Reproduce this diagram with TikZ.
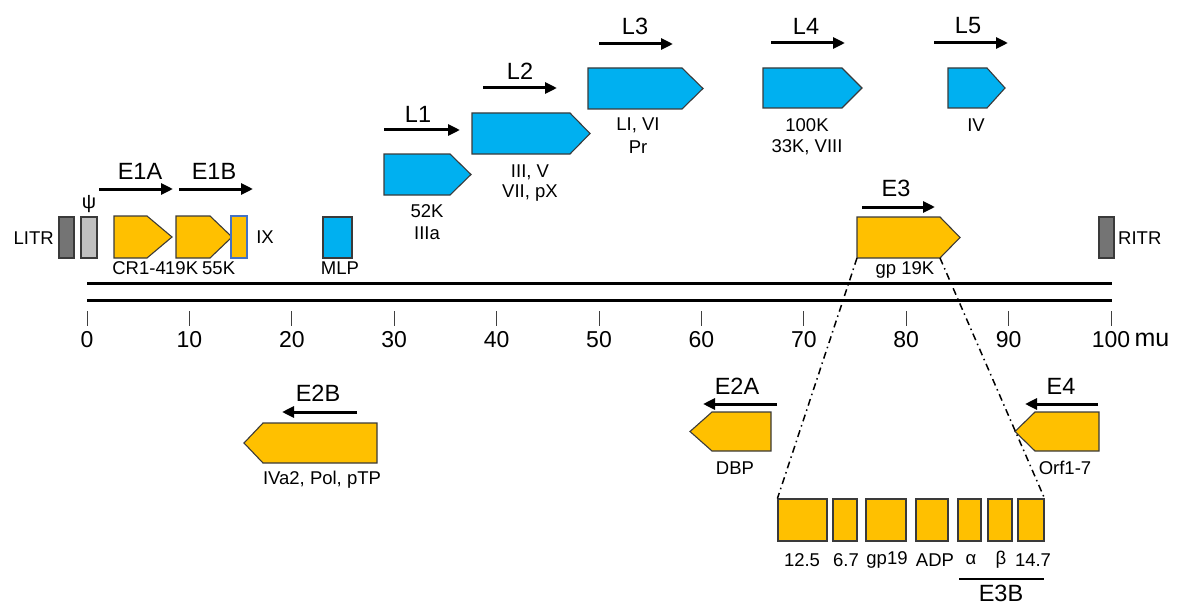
\documentclass[tikz,border=0pt]{standalone}
\usepackage{fontspec}
\setmainfont{Liberation Sans}
\usetikzlibrary{arrows.meta}
\definecolor{gorange}{HTML}{FFC000}
\definecolor{gblue}{HTML}{00B0F0}
\definecolor{gdark}{HTML}{747474}
\definecolor{glight}{HTML}{C0C0C0}
\definecolor{gedge}{HTML}{3A3A3A}
\definecolor{ixedge}{HTML}{4472C4}
\begin{document}
\begin{tikzpicture}[x=1pt,y=-1pt,
  big/.style={font=\fontsize{23.5}{27}\selectfont, inner sep=0pt},
  small/.style={font=\fontsize{18.5}{22}\selectfont, inner sep=0pt},
  num/.style={font=\fontsize{23}{27}\selectfont, inner sep=0pt},
  og/.style={fill=gorange, draw=gedge, line width=1.1pt, line join=miter},
  bg/.style={fill=gblue, draw=gedge, line width=1.1pt, line join=miter},
  tarrow/.style={line width=3pt, -{Triangle[length=12pt,width=11pt]}},
  ebox/.style={og, minimum height=42pt, inner sep=0pt},
  rbox/.style={draw=gedge, line width=1.1pt, minimum width=15pt, minimum height=41pt, inner sep=0pt},
  dd/.style={line width=1.5pt, dash pattern=on 7pt off 4pt on 1.5pt off 4pt},
  tick/.style={line width=1pt, draw=black!75}]
\useasboundingbox (0,0) rectangle (1196,607);

% genome lines
\draw[line width=3pt] (87,283) -- (1112,283);
\draw[line width=3pt] (87,300) -- (1112,300);
\foreach \k/\lab in {0/0,1/10,2/20,3/30,4/40,5/50,6/60,7/70,8/80,9/90,10/100}{
  \draw[tick] ({87+102.4*\k},311) -- ({87+102.4*\k},326);
  \node[num] (n\k) at ({87+102.4*\k},340) {\lab};
}
\node[num, anchor=west, font=\fontsize{25}{29}\selectfont] (mu) at ([xshift=4pt]n10.east) {mu};

% left end elements
\node[rbox, fill=gdark] (litr) at (66.5,237.5) {};
\node[small, anchor=east] (litrl) at (54,238) {LITR};
\node[rbox, fill=glight, minimum width=16pt] (psi) at (89,237.5) {};
\node[small, font=\fontsize{20}{24}\selectfont] (psil) at (89,204) {ψ};

% E1
\node[big] (e1a) at (140,171) {E1A};
\node[big] (e1b) at (214,171) {E1B};
\draw[tarrow] (99,189) -- (173,189);
\draw[tarrow] (179,189) -- (253,189);
\draw[og] (114,216) -- (147,216) -- (172,237) -- (147,258) -- (114,258) -- cycle;
\draw[og] (176,216) -- (210,216) -- (232,237) -- (210,258) -- (176,258) -- cycle;
\node[fill=gorange, draw=ixedge, line width=1.1pt, minimum width=16pt, minimum height=42pt, inner sep=0pt] (ix) at (239,237) {};
\node[small] (ixl) at (265,237) {IX};
\node[small, anchor=east] (cr) at (166,268) {CR1-4};
\node[small, anchor=west] (k19) at (165,268) {19K};
\node[small, anchor=west] (k55) at (202,268) {55K};

% MLP
\node[bg, minimum width=29pt, minimum height=41pt, inner sep=0pt] (mlp) at (337.5,237.5) {};
\node[small] (mlpl) at (340,268) {MLP};

% late genes
\node[big] (l1) at (418,114) {L1};
\node[big] (l2) at (520,71) {L2};
\node[big] (l3) at (635,26) {L3};
\node[big] (l4) at (806,26) {L4};
\node[big] (l5) at (968,26) {L5};
\draw[tarrow] (384,130) -- (460,130);
\draw[tarrow] (483,88) -- (557,88);
\draw[tarrow] (599,44) -- (673,44);
\draw[tarrow] (771,43) -- (845,43);
\draw[tarrow] (934,43) -- (1008,43);
\draw[bg] (384,154) -- (450,154) -- (471,174.5) -- (450,195) -- (384,195) -- cycle;
\draw[bg] (472,113) -- (570,113) -- (590,133.5) -- (570,154) -- (472,154) -- cycle;
\draw[bg] (588,68) -- (682,68) -- (703,88.5) -- (682,109) -- (588,109) -- cycle;
\draw[bg] (763,68) -- (842,68) -- (862,88) -- (842,108) -- (763,108) -- cycle;
\draw[bg] (948,68) -- (987,68) -- (1005,88) -- (987,108) -- (948,108) -- cycle;
\node[small] (k52) at (427,211) {52K};
\node[small] (iiia) at (427,233) {IIIa};
\node[small] (iiiv) at (530,172) {III, V};
\node[small] (viipx) at (530,193) {VII, pX};
\node[small] (livi) at (638,125) {LI, VI};
\node[small] (pr) at (638,147) {Pr};
\node[small] (k100) at (807,125) {100K};
\node[small] (k33) at (807,147) {33K, VIII};
\node[small] (iv) at (976,125) {IV};

% E3
\node[big] (e3) at (896,188) {E3};
\draw[tarrow] (862,207) -- (935,207);
\draw[og] (857,217) -- (940,217) -- (960,237.5) -- (940,258) -- (857,258) -- cycle;
\coordinate (e3bl) at (857,258);
\coordinate (e3br) at (940,258);
\node[small] (gp19k) at (905,270) {gp 19K};

% RITR
\node[rbox, fill=gdark] (ritr) at (1106.5,237.5) {};
\node[small, anchor=west] (ritrl) at (1118,238) {RITR};

% E2B
\node[big] (e2b) at (318,393) {E2B};
\draw[tarrow] (357,412) -- (282,412);
\draw[og] (377,423) -- (263,423) -- (244,443) -- (263,463) -- (377,463) -- cycle;
\node[small] (ivpol) at (322,480) {IVa2, Pol, pTP};

% E2A
\node[big] (e2a) at (737,386) {E2A};
\draw[tarrow] (777,404) -- (703,404);
\draw[og] (771,412) -- (712,412) -- (690,431.5) -- (712,451) -- (771,451) -- cycle;
\node[small] (dbp) at (735,468) {DBP};

% E4
\node[big] (e4) at (1061,386) {E4};
\draw[tarrow] (1098,404) -- (1025,404);
\draw[og] (1099,412) -- (1035,412) -- (1015,431.5) -- (1035,451) -- (1099,451) -- cycle;
\node[small] (orf) at (1065,468) {Orf1-7};

% E3 expansion
\node[ebox, minimum width=49pt] (b1) at (802.5,520) {};
\node[ebox, minimum width=24pt] (b2) at (845,520) {};
\node[ebox, minimum width=40pt] (b3) at (886,520) {};
\node[ebox, minimum width=32pt] (b4) at (932,520) {};
\node[ebox, minimum width=23pt] (b5) at (969.5,520) {};
\node[ebox, minimum width=24pt] (b6) at (1000,520) {};
\node[ebox, minimum width=26pt] (b7) at (1031,520) {};
\draw[dd] (e3bl) -- (b1.north west);
\draw[dd] (e3br) -- (b7.north east);
\node[small] (t1) at (802,560) {12.5};
\node[small] (t2) at (846,560) {6.7};
\node[small] (t3) at (887,560) {gp19};
\node[small] (t4) at (935,560) {ADP};
\node[small] (t5) at (971,560) {α};
\node[small] (t6) at (1001,560) {β};
\node[small] (t7) at (1033,560) {14.7};
\draw[line width=1.8pt] (959,579) -- (1044,579);
\node[big] (e3b) at (1001,593) {E3B};
\end{tikzpicture}
\end{document}
